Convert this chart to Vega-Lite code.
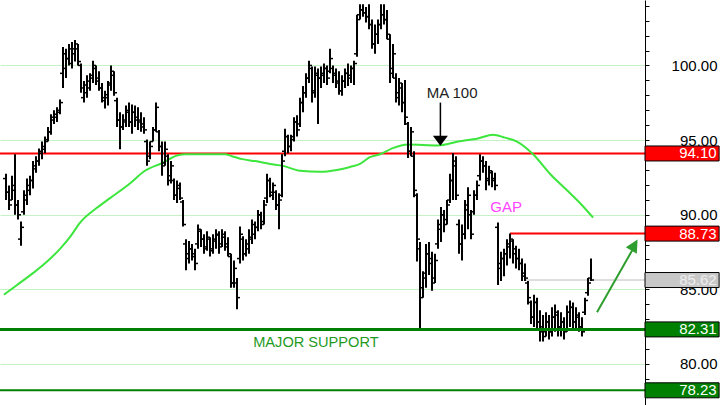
{
"$schema": "https://vega.github.io/schema/vega-lite/v6.json",
"width": 645, "height": 405,
"autosize": {"type": "none"},
"padding": {"left": 0, "top": 0, "right": 75, "bottom": 0},
"background": "white",
"config": {"view": {"stroke": null}},
"datasets": {
"ohlc": [
{"d":2,"o":92.42,"h":92.74,"l":90.98,"c":91.50},
{"d":3,"o":91.50,"h":91.96,"l":90.32,"c":90.65},
{"d":4,"o":90.98,"h":92.61,"l":90.98,"c":91.96},
{"d":5,"o":91.63,"h":94.05,"l":89.99,"c":90.65},
{"d":6,"o":90.65,"h":90.98,"l":89.67,"c":89.99},
{"d":7,"o":88.36,"h":89.54,"l":87.91,"c":89.15},
{"d":8,"o":90.19,"h":91.63,"l":89.99,"c":91.30},
{"d":9,"o":90.98,"h":92.42,"l":90.65,"c":91.96},
{"d":10,"o":91.63,"h":92.61,"l":91.30,"c":92.29},
{"d":11,"o":92.29,"h":93.59,"l":91.76,"c":93.27},
{"d":12,"o":93.07,"h":93.92,"l":92.81,"c":93.59},
{"d":13,"o":93.59,"h":94.44,"l":93.27,"c":94.25},
{"d":14,"o":94.12,"h":94.90,"l":93.72,"c":94.57},
{"d":15,"o":94.38,"h":95.23,"l":94.12,"c":94.90},
{"d":16,"o":95.03,"h":95.88,"l":94.90,"c":95.55},
{"d":17,"o":95.55,"h":96.73,"l":95.36,"c":96.53},
{"d":18,"o":96.34,"h":96.99,"l":96.08,"c":96.73},
{"d":19,"o":96.53,"h":97.19,"l":96.21,"c":96.99},
{"d":20,"o":96.86,"h":97.71,"l":96.73,"c":97.51},
{"d":21,"o":99.47,"h":101.24,"l":98.49,"c":100.78},
{"d":22,"o":99.80,"h":101.11,"l":99.15,"c":100.46},
{"d":23,"o":100.46,"h":101.44,"l":100.00,"c":101.11},
{"d":24,"o":100.13,"h":101.57,"l":99.80,"c":101.11},
{"d":25,"o":100.78,"h":101.70,"l":100.26,"c":101.44},
{"d":26,"o":101.11,"h":101.44,"l":100.00,"c":100.26},
{"d":27,"o":100.00,"h":100.13,"l":98.17,"c":98.49},
{"d":28,"o":97.84,"h":98.95,"l":97.51,"c":98.69},
{"d":29,"o":98.17,"h":99.34,"l":97.84,"c":98.95},
{"d":30,"o":98.49,"h":99.47,"l":98.30,"c":99.34},
{"d":31,"o":99.15,"h":100.32,"l":98.82,"c":100.00},
{"d":32,"o":99.80,"h":100.00,"l":98.69,"c":98.95},
{"d":33,"o":99.15,"h":99.61,"l":98.30,"c":98.49},
{"d":34,"o":98.49,"h":98.82,"l":97.51,"c":97.84},
{"d":35,"o":97.64,"h":98.30,"l":97.12,"c":98.04},
{"d":36,"o":97.84,"h":98.95,"l":97.32,"c":98.69},
{"d":37,"o":98.82,"h":100.00,"l":98.30,"c":99.61},
{"d":38,"o":99.34,"h":99.61,"l":97.97,"c":98.17},
{"d":39,"o":97.64,"h":97.84,"l":95.88,"c":96.34},
{"d":40,"o":96.34,"h":96.86,"l":94.38,"c":95.88},
{"d":41,"o":95.88,"h":96.73,"l":95.68,"c":96.34},
{"d":42,"o":96.21,"h":97.32,"l":95.88,"c":96.86},
{"d":43,"o":96.99,"h":97.51,"l":95.88,"c":96.21},
{"d":44,"o":96.21,"h":97.38,"l":95.42,"c":96.86},
{"d":45,"o":96.86,"h":97.32,"l":95.88,"c":96.34},
{"d":46,"o":96.53,"h":97.19,"l":95.68,"c":96.21},
{"d":47,"o":96.34,"h":96.86,"l":95.55,"c":95.88},
{"d":48,"o":96.08,"h":96.53,"l":95.42,"c":95.68},
{"d":49,"o":94.90,"h":95.03,"l":93.27,"c":93.59},
{"d":50,"o":93.92,"h":94.90,"l":93.72,"c":94.57},
{"d":51,"o":94.90,"h":95.88,"l":94.90,"c":95.68},
{"d":52,"o":95.68,"h":97.51,"l":95.55,"c":97.19},
{"d":53,"o":95.55,"h":95.68,"l":94.25,"c":94.57},
{"d":54,"o":94.57,"h":94.90,"l":92.61,"c":93.27},
{"d":55,"o":93.46,"h":94.90,"l":93.27,"c":94.38},
{"d":56,"o":93.92,"h":94.05,"l":91.96,"c":92.29},
{"d":57,"o":92.61,"h":93.59,"l":92.09,"c":93.27},
{"d":58,"o":92.29,"h":92.42,"l":90.98,"c":91.30},
{"d":59,"o":91.30,"h":92.29,"l":90.78,"c":91.96},
{"d":60,"o":91.76,"h":92.15,"l":90.98,"c":91.11},
{"d":61,"o":90.85,"h":90.98,"l":89.21,"c":89.34},
{"d":62,"o":88.04,"h":88.36,"l":86.27,"c":87.06},
{"d":63,"o":87.38,"h":88.23,"l":86.73,"c":87.71},
{"d":64,"o":87.71,"h":88.04,"l":86.93,"c":87.19},
{"d":65,"o":87.38,"h":87.71,"l":86.27,"c":86.73},
{"d":66,"o":88.04,"h":89.34,"l":87.71,"c":89.02},
{"d":67,"o":88.89,"h":89.02,"l":87.84,"c":88.36},
{"d":68,"o":88.36,"h":88.69,"l":87.38,"c":87.71},
{"d":69,"o":87.84,"h":88.89,"l":87.58,"c":88.49},
{"d":70,"o":88.36,"h":88.49,"l":87.19,"c":87.58},
{"d":71,"o":87.71,"h":88.69,"l":87.38,"c":88.36},
{"d":72,"o":88.23,"h":89.02,"l":87.71,"c":88.69},
{"d":73,"o":88.63,"h":88.89,"l":87.38,"c":87.84},
{"d":74,"o":88.04,"h":89.02,"l":87.84,"c":88.69},
{"d":75,"o":88.49,"h":88.89,"l":87.58,"c":87.84},
{"d":76,"o":88.04,"h":88.49,"l":87.19,"c":87.38},
{"d":77,"o":87.19,"h":87.38,"l":85.10,"c":85.42},
{"d":78,"o":85.42,"h":86.93,"l":85.10,"c":86.40},
{"d":79,"o":85.42,"h":85.75,"l":83.66,"c":84.44},
{"d":80,"o":87.06,"h":89.21,"l":86.73,"c":88.69},
{"d":81,"o":88.36,"h":88.56,"l":86.93,"c":87.38},
{"d":82,"o":87.38,"h":88.36,"l":87.19,"c":88.04},
{"d":83,"o":87.71,"h":89.02,"l":87.38,"c":88.49},
{"d":84,"o":88.36,"h":89.67,"l":88.04,"c":89.34},
{"d":85,"o":88.69,"h":89.54,"l":88.36,"c":89.15},
{"d":86,"o":89.15,"h":90.32,"l":88.89,"c":89.99},
{"d":87,"o":89.99,"h":90.19,"l":89.02,"c":89.34},
{"d":88,"o":89.54,"h":90.98,"l":89.34,"c":90.65},
{"d":89,"o":91.11,"h":92.74,"l":90.78,"c":92.29},
{"d":90,"o":92.29,"h":92.48,"l":91.17,"c":91.50},
{"d":91,"o":91.30,"h":92.15,"l":90.98,"c":91.96},
{"d":92,"o":91.50,"h":91.63,"l":90.32,"c":90.65},
{"d":93,"o":90.65,"h":91.44,"l":89.02,"c":90.98},
{"d":94,"o":91.30,"h":94.05,"l":91.17,"c":93.59},
{"d":95,"o":94.25,"h":95.75,"l":93.92,"c":95.23},
{"d":96,"o":95.23,"h":95.36,"l":94.12,"c":94.57},
{"d":97,"o":94.57,"h":95.36,"l":94.25,"c":95.03},
{"d":98,"o":95.23,"h":96.53,"l":94.90,"c":96.21},
{"d":99,"o":96.21,"h":96.66,"l":95.23,"c":95.68},
{"d":100,"o":96.08,"h":97.84,"l":95.88,"c":97.51},
{"d":101,"o":97.51,"h":98.63,"l":96.86,"c":98.17},
{"d":102,"o":98.17,"h":99.47,"l":97.84,"c":99.15},
{"d":103,"o":99.15,"h":100.32,"l":98.82,"c":100.00},
{"d":104,"o":99.80,"h":99.93,"l":97.51,"c":98.17},
{"d":105,"o":98.30,"h":99.93,"l":97.84,"c":99.47},
{"d":106,"o":99.34,"h":99.80,"l":96.08,"c":99.15},
{"d":107,"o":99.15,"h":99.93,"l":98.49,"c":99.47},
{"d":108,"o":99.34,"h":100.13,"l":98.82,"c":99.80},
{"d":109,"o":99.80,"h":100.00,"l":98.69,"c":99.15},
{"d":110,"o":99.61,"h":101.11,"l":99.47,"c":100.46},
{"d":111,"o":99.80,"h":100.00,"l":98.82,"c":99.34},
{"d":112,"o":99.47,"h":99.80,"l":98.49,"c":98.82},
{"d":113,"o":98.95,"h":99.61,"l":98.04,"c":98.30},
{"d":114,"o":98.30,"h":99.34,"l":97.97,"c":98.95},
{"d":115,"o":98.95,"h":99.80,"l":98.49,"c":99.47},
{"d":116,"o":99.47,"h":100.13,"l":98.63,"c":99.15},
{"d":117,"o":99.34,"h":100.00,"l":98.82,"c":99.80},
{"d":118,"o":99.80,"h":100.32,"l":98.69,"c":100.13},
{"d":119,"o":100.78,"h":103.40,"l":100.59,"c":103.07},
{"d":120,"o":103.40,"h":104.10,"l":103.07,"c":103.72},
{"d":121,"o":103.72,"h":104.10,"l":103.27,"c":103.53},
{"d":122,"o":103.53,"h":103.92,"l":102.87,"c":103.27},
{"d":123,"o":103.27,"h":104.10,"l":102.42,"c":102.74},
{"d":124,"o":102.74,"h":103.07,"l":101.11,"c":101.44},
{"d":125,"o":101.44,"h":102.74,"l":100.78,"c":102.09},
{"d":126,"o":102.09,"h":103.07,"l":101.44,"c":102.74},
{"d":127,"o":102.74,"h":104.10,"l":102.42,"c":103.40},
{"d":128,"o":103.40,"h":104.10,"l":102.74,"c":103.07},
{"d":129,"o":103.07,"h":103.72,"l":101.76,"c":102.09},
{"d":130,"o":101.76,"h":102.09,"l":98.82,"c":99.47},
{"d":131,"o":99.80,"h":101.44,"l":99.15,"c":100.78},
{"d":132,"o":99.15,"h":99.47,"l":97.51,"c":97.84},
{"d":133,"o":98.17,"h":99.15,"l":97.32,"c":98.82},
{"d":134,"o":98.49,"h":98.82,"l":96.86,"c":97.51},
{"d":135,"o":97.51,"h":99.02,"l":96.01,"c":96.53},
{"d":136,"o":96.08,"h":96.21,"l":93.79,"c":94.25},
{"d":137,"o":94.25,"h":95.88,"l":93.92,"c":95.55},
{"d":138,"o":93.92,"h":94.25,"l":91.17,"c":91.63},
{"d":139,"o":91.30,"h":91.44,"l":86.86,"c":88.36},
{"d":140,"o":87.71,"h":88.17,"l":82.31,"c":84.44},
{"d":141,"o":85.10,"h":86.21,"l":84.44,"c":85.75},
{"d":142,"o":86.08,"h":88.04,"l":85.10,"c":87.38},
{"d":143,"o":87.38,"h":88.17,"l":85.95,"c":86.73},
{"d":144,"o":87.06,"h":87.51,"l":84.90,"c":85.42},
{"d":145,"o":85.75,"h":87.38,"l":85.42,"c":86.93},
{"d":146,"o":88.04,"h":89.67,"l":87.71,"c":89.34},
{"d":147,"o":89.02,"h":90.52,"l":88.17,"c":89.99},
{"d":148,"o":89.99,"h":90.32,"l":88.82,"c":89.34},
{"d":149,"o":89.67,"h":90.98,"l":89.34,"c":90.65},
{"d":150,"o":90.98,"h":92.74,"l":90.78,"c":92.29},
{"d":151,"o":92.29,"h":94.12,"l":90.98,"c":93.59},
{"d":152,"o":93.27,"h":93.92,"l":90.98,"c":91.30},
{"d":153,"o":89.34,"h":89.67,"l":87.38,"c":88.04},
{"d":154,"o":88.04,"h":89.34,"l":86.93,"c":88.69},
{"d":155,"o":88.69,"h":90.98,"l":88.36,"c":90.32},
{"d":156,"o":90.65,"h":91.83,"l":89.02,"c":91.30},
{"d":157,"o":89.99,"h":90.32,"l":88.36,"c":88.69},
{"d":158,"o":90.19,"h":91.63,"l":89.99,"c":91.30},
{"d":159,"o":91.30,"h":92.29,"l":90.98,"c":91.96},
{"d":160,"o":92.61,"h":94.05,"l":92.29,"c":93.59},
{"d":161,"o":93.59,"h":93.92,"l":92.81,"c":93.27},
{"d":162,"o":93.27,"h":93.59,"l":91.63,"c":92.29},
{"d":163,"o":92.42,"h":93.27,"l":91.96,"c":92.94},
{"d":164,"o":92.81,"h":92.94,"l":91.83,"c":92.29},
{"d":165,"o":92.42,"h":92.81,"l":91.63,"c":91.96},
{"d":166,"o":89.15,"h":89.47,"l":85.29,"c":86.40},
{"d":167,"o":86.73,"h":87.51,"l":85.55,"c":87.06},
{"d":168,"o":87.06,"h":87.71,"l":85.88,"c":87.38},
{"d":169,"o":87.38,"h":88.36,"l":86.60,"c":87.84},
{"d":170,"o":88.04,"h":88.73,"l":87.06,"c":88.36},
{"d":171,"o":88.23,"h":88.36,"l":86.73,"c":87.38},
{"d":172,"o":87.71,"h":87.91,"l":86.40,"c":87.06},
{"d":173,"o":87.06,"h":87.71,"l":86.27,"c":86.73},
{"d":174,"o":86.73,"h":87.06,"l":85.55,"c":85.88},
{"d":175,"o":86.08,"h":86.73,"l":85.55,"c":85.75},
{"d":176,"o":85.42,"h":85.55,"l":83.98,"c":84.44},
{"d":177,"o":84.12,"h":84.25,"l":82.68,"c":83.13},
{"d":178,"o":83.13,"h":84.64,"l":82.48,"c":84.12},
{"d":179,"o":84.12,"h":84.44,"l":82.35,"c":82.81},
{"d":180,"o":82.81,"h":83.59,"l":81.50,"c":82.15},
{"d":181,"o":82.48,"h":83.27,"l":81.50,"c":81.83},
{"d":182,"o":82.15,"h":83.46,"l":81.83,"c":82.81},
{"d":183,"o":82.81,"h":83.27,"l":81.63,"c":82.15},
{"d":184,"o":82.15,"h":83.79,"l":81.83,"c":83.13},
{"d":185,"o":83.13,"h":83.98,"l":82.15,"c":83.46},
{"d":186,"o":83.27,"h":83.59,"l":81.83,"c":82.48},
{"d":187,"o":82.48,"h":83.46,"l":81.83,"c":82.81},
{"d":188,"o":82.81,"h":83.13,"l":81.63,"c":82.15},
{"d":189,"o":82.29,"h":83.92,"l":82.15,"c":83.46},
{"d":190,"o":83.46,"h":84.25,"l":82.48,"c":83.79},
{"d":191,"o":83.79,"h":84.12,"l":82.29,"c":82.81},
{"d":192,"o":82.81,"h":83.79,"l":82.29,"c":83.27},
{"d":193,"o":83.13,"h":83.46,"l":82.15,"c":82.48},
{"d":194,"o":82.48,"h":83.13,"l":81.83,"c":82.15},
{"d":195,"o":83.46,"h":84.44,"l":83.27,"c":84.25},
{"d":196,"o":84.77,"h":85.75,"l":84.57,"c":85.42},
{"d":197,"o":85.75,"h":87.06,"l":85.55,"c":85.62}
],
"ma": [
{"d":1.3,"v":84.64},{"d":5.7,"v":85.29},{"d":11,"v":86.08},{"d":15.7,"v":86.86},{"d":20,"v":87.71},{"d":23.3,"v":88.49},{"d":26.7,"v":89.47},{"d":32.3,"v":90.46},{"d":36.7,"v":91.11},{"d":43.3,"v":92.09},{"d":48.3,"v":92.94},{"d":54,"v":93.46},{"d":59.3,"v":93.98},{"d":61.7,"v":94.05},{"d":75,"v":94.05},{"d":77.3,"v":93.92},{"d":80.7,"v":93.72},{"d":85,"v":93.59},{"d":90,"v":93.4},{"d":94.3,"v":93.27},{"d":100,"v":92.94},{"d":106.7,"v":92.87},{"d":112.3,"v":93.0},{"d":116.7,"v":93.2},{"d":120,"v":93.4},{"d":123.3,"v":93.85},{"d":126.7,"v":94.05},{"d":130.7,"v":94.44},{"d":136,"v":94.7},{"d":146,"v":94.64},{"d":152.7,"v":94.9},{"d":159.3,"v":95.1},{"d":164.3,"v":95.36},{"d":168.3,"v":95.16},{"d":172.3,"v":94.9},{"d":177.7,"v":94.05},{"d":183.3,"v":92.74},{"d":189,"v":91.63},{"d":193.3,"v":90.78},{"d":197.7,"v":89.8}
],
"levels": [
{"level":94.10,"kind":"r"},{"level":88.73,"kind":"r"},{"level":85.62,"kind":"g"},{"level":82.31,"kind":"s"},{"level":78.23,"kind":"s"}
]
},
"layer": [
{
"data": {"values": [{"level": 94.10, "from": 0}, {"level": 88.73, "from": 170}]},
"mark": {"type": "rule", "color": "#ff0000", "strokeWidth": 2},
"encoding": {
"x": {"field": "from", "type": "quantitative", "scale": {"domain": [0, 215], "nice": false, "zero": false}, "axis": null},
"x2": {"datum": 215},
"y": {"field": "level", "type": "quantitative",
"scale": {"domain": [77.58, 104.05], "nice": false, "zero": false},
"axis": {"orient": "right", "title": null,
"tickCount": 27,
"labelExpr": "datum.value % 5 === 0 ? format(datum.value, '.2f') : ''",
"labelOverlap": false, "labelBound": false, "labelFlush": false,
"grid": true, "gridColor": "#c4f2c4", "gridWidth": 1,
"gridOpacity": {"condition": {"test": "datum.value % 5 === 0", "value": 1}, "value": 0},
"tickSize": 4, "tickColor": "#000", "domainColor": "#000",
"labelFont": "Liberation Sans", "labelFontSize": 15, "labelColor": "#000",
"labelAlign": "right", "labelBaseline": "middle", "labelPadding": 68}}
}
},
{
"data": {"values": [{"level": 85.62, "from": 175}]},
"mark": {"type": "rule", "color": "#bbbbbb", "strokeWidth": 1},
"encoding": {
"x": {"field": "from", "type": "quantitative"},
"x2": {"datum": 215},
"y": {"field": "level", "type": "quantitative"}
}
},
{
"data": {"name": "ma"},
"mark": {"type": "line", "color": "#3ce63c", "strokeWidth": 2, "interpolate": "monotone"},
"encoding": {
"x": {"field": "d", "type": "quantitative"},
"y": {"field": "v", "type": "quantitative"}
}
},
{
"data": {"name": "ohlc"},
"mark": {"type": "rule", "color": "#000", "strokeWidth": 2},
"encoding": {
"x": {"field": "d", "type": "quantitative"},
"y": {"field": "l", "type": "quantitative"},
"y2": {"field": "h"}
}
},
{
"data": {"name": "ohlc"},
"mark": {"type": "tick", "orient": "horizontal", "size": 3, "thickness": 1.5, "xOffset": -1.5, "color": "#000", "opacity": 1},
"encoding": {
"x": {"field": "d", "type": "quantitative"},
"y": {"field": "o", "type": "quantitative"}
}
},
{
"data": {"name": "ohlc"},
"mark": {"type": "tick", "orient": "horizontal", "size": 3, "thickness": 1.5, "xOffset": 1.5, "color": "#000", "opacity": 1},
"encoding": {
"x": {"field": "d", "type": "quantitative"},
"y": {"field": "c", "type": "quantitative"}
}
},
{
"data": {"values": [{"level": 82.31, "from": 0}]},
"mark": {"type": "rule", "color": "#008000", "strokeWidth": 3},
"encoding": {
"x": {"field": "from", "type": "quantitative"},
"x2": {"datum": 215},
"y": {"field": "level", "type": "quantitative"}
}
},
{
"data": {"values": [{"level": 78.23, "from": 0}]},
"mark": {"type": "rule", "color": "#008000", "strokeWidth": 2},
"encoding": {
"x": {"field": "from", "type": "quantitative"},
"x2": {"datum": 215},
"y": {"field": "level", "type": "quantitative"}
}
},
{
"data": {"values": [{"d": 146.8, "top": 97.51, "bottom": 95.2}]},
"mark": {"type": "rule", "color": "#000", "strokeWidth": 1.5},
"encoding": {
"x": {"field": "d", "type": "quantitative"},
"y": {"field": "top", "type": "quantitative"},
"y2": {"field": "bottom"}
}
},
{
"data": {"values": [{"d": 146.8, "p": 94.95}]},
"mark": {"type": "point", "shape": "M-1,-0.67L1,-0.67L0,0.67Z", "size": 225, "filled": true, "color": "#000", "opacity": 1},
"encoding": {
"x": {"field": "d", "type": "quantitative"},
"y": {"field": "p", "type": "quantitative"}
}
},
{
"data": {"values": [{"d0": 199, "p0": 83.46, "d1": 210.7, "p1": 87.6}]},
"mark": {"type": "rule", "color": "#2e9e2e", "strokeWidth": 2},
"encoding": {
"x": {"field": "d0", "type": "quantitative"},
"y": {"field": "p0", "type": "quantitative"},
"x2": {"field": "d1"},
"y2": {"field": "p1"}
}
},
{
"data": {"values": [{"d": 211.3, "p": 87.9}]},
"mark": {"type": "point", "shape": "M0,-1L0.85,0.7L-0.85,0.7Z", "size": 220, "filled": true, "color": "#2e9e2e", "opacity": 1, "angle": 30},
"encoding": {
"x": {"field": "d", "type": "quantitative"},
"y": {"field": "p", "type": "quantitative"}
}
},
{
"data": {"values": [{"d": 150.7, "p": 98.17, "label": "MA 100"}]},
"mark": {"type": "text", "font": "Liberation Sans", "fontSize": 15, "color": "#222", "align": "center", "baseline": "middle"},
"encoding": {
"x": {"field": "d", "type": "quantitative"},
"y": {"field": "p", "type": "quantitative"},
"text": {"field": "label"}
}
},
{
"data": {"values": [{"d": 168.7, "p": 90.52, "label": "GAP"}]},
"mark": {"type": "text", "font": "Liberation Sans", "fontSize": 15, "color": "#ff44ff", "align": "center", "baseline": "middle"},
"encoding": {
"x": {"field": "d", "type": "quantitative"},
"y": {"field": "p", "type": "quantitative"},
"text": {"field": "label"}
}
},
{
"data": {"values": [{"d": 105.3, "p": 81.37, "label": "MAJOR SUPPORT"}]},
"mark": {"type": "text", "font": "Liberation Sans", "fontSize": 14.6, "color": "#1f9a1f", "align": "center", "baseline": "middle"},
"encoding": {
"x": {"field": "d", "type": "quantitative"},
"y": {"field": "p", "type": "quantitative"},
"text": {"field": "label"}
}
},
{
"data": {"name": "levels"},
"mark": {"type": "bar", "orient": "horizontal", "height": 15, "stroke": "#000", "strokeWidth": 1, "clip": false},
"encoding": {
"x": {"datum": 215},
"x2": {"datum": 239.7},
"y": {"field": "level", "type": "quantitative"},
"fill": {"field": "kind", "type": "nominal", "scale": {"domain": ["r", "g", "s"], "range": ["#ff0000", "#c8c8c8", "#008000"]}, "legend": null}
}
},
{
"data": {"name": "levels"},
"mark": {"type": "text", "font": "Liberation Sans", "fontSize": 15, "align": "right", "baseline": "middle", "clip": false},
"encoding": {
"x": {"datum": 238.9},
"y": {"field": "level", "type": "quantitative"},
"text": {"field": "level", "type": "quantitative", "format": ".2f"},
"color": {"condition": {"test": "datum.kind === 'g'", "value": "#eeeeee"}, "value": "#ffffff"}
}
}
]
}
